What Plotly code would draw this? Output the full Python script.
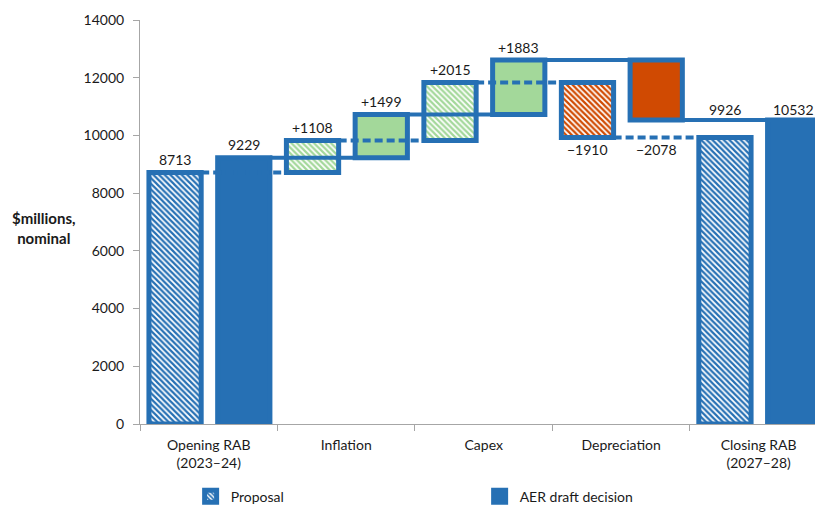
import plotly.graph_objects as go

categories = ["Opening RAB<br>(2023–24)", "Inflation", "Capex", "Depreciation", "Closing RAB<br>(2027–28)"]
proposal_opening = 8713
proposal_changes = [1108, 2015, -1910]
proposal_closing = 9926
aer_opening = 9229
aer_changes = [1499, 1883, -2078]
aer_closing = 10532
change_labels_prop = ["+1108", "+2015", "−1910"]
change_labels_aer = ["+1499", "+1883", "−2078"]
y_ticks = [0, 2000, 4000, 6000, 8000, 10000, 12000, 14000]

BLUE = "#2670b4"
GREEN = "#a3d89a"
ORANGE = "#d04a02"
OUT_W = 5
BAR_W = 0.38
OFF_P = -0.245
OFF_A = 0.255


def build(opening, changes, closing):
    bases, vals, tops = [0], [opening], [opening]
    level = opening
    for c in changes:
        bases.append(level)
        vals.append(c)
        level += c
        tops.append(level)
    bases.append(0)
    vals.append(closing)
    tops.append(closing)
    return bases, vals, tops


p_base, p_val, p_level = build(proposal_opening, proposal_changes, proposal_closing)
a_base, a_val, a_level = build(aer_opening, aer_changes, aer_closing)

fill_colors = [BLUE, GREEN, GREEN, ORANGE, BLUE]

fig = go.Figure()
fig.add_trace(go.Bar(
    x=categories, y=p_val, base=p_base, name="Proposal",
    offset=OFF_P - BAR_W / 2, width=BAR_W,
    marker=dict(color="white",
                pattern=dict(shape="\\", fgcolor=fill_colors, bgcolor="white",
                             size=4, solidity=0.55, fillmode="replace"),
                line=dict(color=BLUE, width=OUT_W)),
    hoverinfo="skip",
))
fig.add_trace(go.Bar(
    x=categories, y=a_val, base=a_base, name="AER draft decision",
    offset=OFF_A - BAR_W / 2, width=BAR_W,
    marker=dict(color=fill_colors, line=dict(color=BLUE, width=OUT_W)),
    hoverinfo="skip",
))

shapes = []
n = len(categories)
for i in range(n - 1):
    # proposal connector (dashed)
    shapes.append(dict(type="line", xref="x", yref="y",
                       x0=i + OFF_P + BAR_W / 2, x1=i + 1 + OFF_P - BAR_W / 2,
                       y0=p_level[i], y1=p_level[i],
                       line=dict(color=BLUE, width=4, dash="8px,4px"), layer="above"))
    # AER connector (solid)
    shapes.append(dict(type="line", xref="x", yref="y",
                       x0=i + OFF_A + BAR_W / 2, x1=i + 1 + OFF_A - BAR_W / 2,
                       y0=a_level[i], y1=a_level[i],
                       line=dict(color=BLUE, width=4), layer="above"))

ann = []
TXT = dict(family="Lato, sans-serif", size=14, color="#1a1a1a")
# opening labels
ann.append(dict(x=0 + OFF_P, y=p_val[0], text=str(proposal_opening), yshift=13))
ann.append(dict(x=0 + OFF_A, y=a_val[0], text=str(aer_opening), yshift=13))
# change labels
for k in range(3):
    i = k + 1
    if proposal_changes[k] >= 0:
        ann.append(dict(x=i + OFF_P, y=p_level[i], text=change_labels_prop[k], yshift=13))
        ann.append(dict(x=i + OFF_A, y=a_level[i], text=change_labels_aer[k], yshift=13))
    else:
        low = min(p_level[i], a_level[i])
        ann.append(dict(x=i + OFF_P, y=low, text=change_labels_prop[k], yshift=-12))
        ann.append(dict(x=i + OFF_A, y=low, text=change_labels_aer[k], yshift=-12))
# closing labels
hi = max(proposal_closing, aer_closing)
ann.append(dict(x=4 + OFF_P, y=hi, text=str(proposal_closing), yshift=11))
ann.append(dict(x=4 + OFF_A, y=hi, text=str(aer_closing), yshift=11))
for a in ann:
    a.update(xref="x", yref="y", showarrow=False, font=TXT, xanchor="center", yanchor="middle")

ann.append(dict(xref="paper", yref="paper", x=-0.142, y=0.485, showarrow=False,
                xanchor="center", yanchor="middle",
                text="<b>$millions,</b><br><b>nominal</b>", align="center",
                font=dict(family="Lato, sans-serif", size=15, color="#1a1a1a")))

fig.update_layout(
    width=815, height=506,
    margin=dict(l=140, r=0, t=20, b=82, autoexpand=False),
    paper_bgcolor="white", plot_bgcolor="white",
    barmode="overlay",
    showlegend=True,
    legend=dict(orientation="h", x=0.075, y=-0.18, xanchor="left", yanchor="middle",
                entrywidth=244, entrywidthmode="pixels",
                font=dict(family="Lato, sans-serif", size=14, color="#1a1a1a"),
                traceorder="normal"),
    shapes=shapes,
    annotations=ann,
    font=dict(family="Lato, sans-serif", size=14, color="#1a1a1a"),
)
fig.update_xaxes(type="category", range=[-0.5, 4.41], tickson="boundaries",
                 ticks="outside", ticklen=6, tickcolor="#a6a6a6",
                 showline=True, linecolor="#a6a6a6", linewidth=1,
                 showgrid=False, zeroline=False, automargin=False,
                 ticklabelstandoff=8,
                 tickfont=dict(family="Lato, sans-serif", size=14, color="#1a1a1a"))
fig.update_yaxes(range=[0, 14000], tickvals=y_ticks, tickformat="d", ticks="outside", ticklen=6,
                 tickcolor="#a6a6a6", showline=True, linecolor="#a6a6a6", linewidth=1,
                 showgrid=False, zeroline=False, ticklabelstandoff=6, automargin=False,
                 tickfont=dict(family="Lato, sans-serif", size=14, color="#1a1a1a"))

fig.write_html("out.html")
